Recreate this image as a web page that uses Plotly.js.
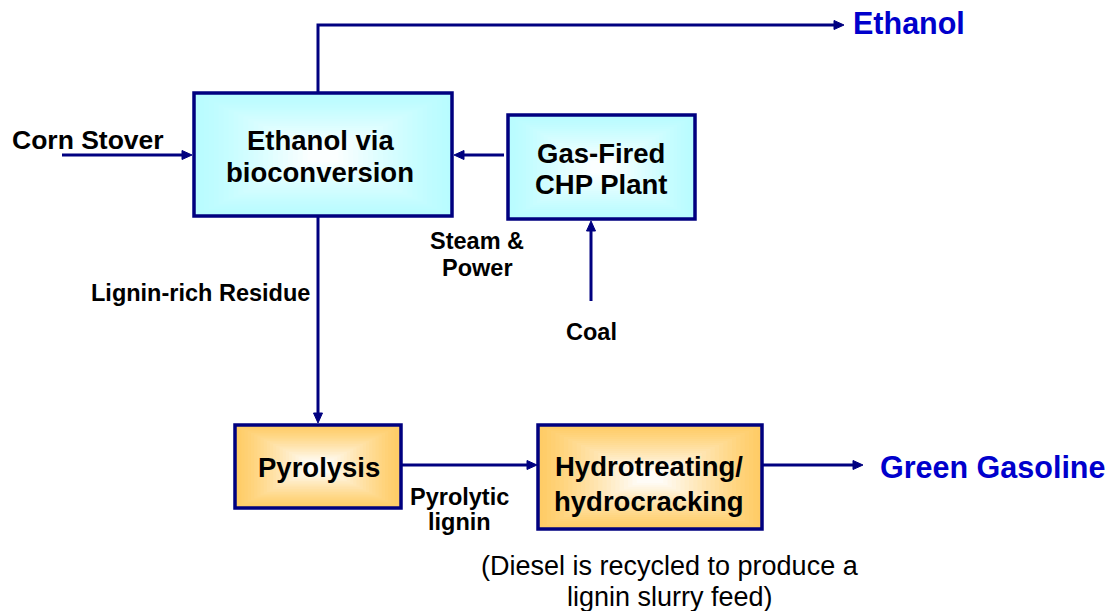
<!DOCTYPE html>
<html>
<head>
<meta charset="utf-8">
<script src="https://cdn.plot.ly/plotly-3.0.1.min.js"></script>
<style>
  html, body { margin: 0; padding: 0; background: #ffffff; }
  #chart { width: 1112px; height: 611px; }
</style>
</head>
<body>
<div id="chart"></div>
<script>
// ---- content ----
const nodeIds    = ["ethanolPlant", "chp", "pyrolysis", "hydro"];
const nodeLines  = [["Ethanol via", "bioconversion"], ["Gas-Fired", "CHP Plant"], ["Pyrolysis"], ["Hydrotreating/", "hydrocracking"]];
const nodeKinds  = ["cyan", "cyan", "orange", "orange"];

const flowIds    = ["cornStover", "steamPower", "ethanolOut", "residue", "coal", "pyroOil", "gasolineOut"];

const labelTexts = [["Corn Stover"], ["Steam &", "Power"], ["Coal"], ["Lignin-rich Residue"], ["Pyrolytic", "lignin"]];
const productTexts = ["Ethanol", "Green Gasoline"];
const noteLines  = ["(Diesel is recycled to produce a", "lignin slurry feed)"];

// ---- layout geometry (pixel space) ----
const boxGeom = {
  ethanolPlant: {x0: 194, x1: 452, y0: 93,  y1: 216, cx: 320, lineY: [140, 172]},
  chp:          {x0: 508, x1: 695, y0: 115, y1: 219, cx: 601, lineY: [153, 184]},
  pyrolysis:    {x0: 235, x1: 401, y0: 425, y1: 508, cx: 319, lineY: [467]},
  hydro:        {x0: 538, x1: 762, y0: 425, y1: 529, cx: 649, lineY: [466, 501]}
};
const flowGeom = {
  cornStover:  [[62, 155], [192, 155]],
  steamPower:  [[504, 155], [454, 155]],
  ethanolOut:  [[318, 92], [318, 25], [844, 25]],
  residue:     [[318, 217], [318, 423]],
  coal:        [[591, 301], [591, 221]],
  pyroOil:     [[402, 465], [537, 465]],
  gasolineOut: [[763, 465], [863, 465]]
};
const labelGeom = [
  {x: 10,  anchor: "left",   ys: [140], size: 26.5},
  {x: 477, anchor: "center", ys: [241, 268], size: 23.5},
  {x: 591, anchor: "center", ys: [332], size: 23.5},
  {x: 89,  anchor: "left",   ys: [293], size: 23.5},
  {x: 459, anchor: "center", ys: [497, 522], size: 23.5}
];
const productGeom = [{x: 851, y: 23}, {x: 878, y: 467}];
const noteGeom = {x: 670, ys: [566, 597]};

// ---- styles ----
const NAVY = "#000080";
const BLUE_TXT = "#0000cc";
const edgeColors = {cyan: [184, 252, 255], orange: [255, 204, 102]};
const FONT = "Arial, 'Liberation Sans', sans-serif";

function mix(c, t) {
  const r = Math.round(c[0] + (255 - c[0]) * t);
  const g = Math.round(c[1] + (255 - c[1]) * t);
  const b = Math.round(c[2] + (255 - c[2]) * t);
  return "rgb(" + r + "," + g + "," + b + ")";
}

const shapes = [];
const annotations = [];

// boxes with centre-out gradient
nodeIds.forEach(function (id, k) {
  const g = boxGeom[id];
  const edge = edgeColors[nodeKinds[k]];
  const hw = (g.x1 - g.x0) / 2, hh = (g.y1 - g.y0) / 2;
  const N = 24;
  for (let i = 0; i < N; i++) {
    const t = i / N;
    const insX = t * hw * 0.92, insY = t * hh * 0.92;
    shapes.push({
      type: "rect", xref: "x", yref: "y", layer: "below",
      x0: g.x0 + insX, x1: g.x1 - insX, y0: g.y0 + insY, y1: g.y1 - insY,
      fillcolor: mix(edge, Math.pow(t, 1.2)), line: {width: 0}
    });
  }
  shapes.push({
    type: "rect", xref: "x", yref: "y", layer: "above",
    x0: g.x0, x1: g.x1, y0: g.y0, y1: g.y1,
    fillcolor: "rgba(0,0,0,0)", line: {color: NAVY, width: 3.5}
  });
  nodeLines[k].forEach(function (txt, j) {
    annotations.push({
      x: g.cx, y: g.lineY[j], xref: "x", yref: "y", showarrow: false,
      xanchor: "center", yanchor: "middle",
      text: "<b>" + txt + "</b>",
      font: {family: FONT, size: 27.5, color: "#000000"}
    });
  });
});

// flows with triangular heads
flowIds.forEach(function (id) {
  const pts = flowGeom[id];
  const a = pts[pts.length - 2], b = pts[pts.length - 1];
  const dx = b[0] - a[0], dy = b[1] - a[1];
  const len = Math.sqrt(dx * dx + dy * dy);
  const ux = dx / len, uy = dy / len;
  const L = 10, W = 4.5;
  const endX = b[0] - ux * (L - 2), endY = b[1] - uy * (L - 2);
  let linePath = "M" + pts[0][0] + "," + pts[0][1];
  for (let i = 1; i < pts.length - 1; i++) linePath += " L" + pts[i][0] + "," + pts[i][1];
  linePath += " L" + endX + "," + endY;
  shapes.push({type: "path", xref: "x", yref: "y", path: linePath,
    line: {color: NAVY, width: 3}, fillcolor: "rgba(0,0,0,0)"});
  const bx = b[0] - ux * L, by = b[1] - uy * L;
  const head = "M" + b[0] + "," + b[1] +
    " L" + (bx - uy * W) + "," + (by + ux * W) +
    " L" + (bx + uy * W) + "," + (by - ux * W) + " Z";
  shapes.push({type: "path", xref: "x", yref: "y", path: head,
    line: {color: NAVY, width: 1}, fillcolor: NAVY});
});

// flow labels
labelTexts.forEach(function (lines, k) {
  const g = labelGeom[k];
  lines.forEach(function (txt, j) {
    annotations.push({
      x: g.x, y: g.ys[j], xref: "x", yref: "y", showarrow: false,
      xanchor: g.anchor, yanchor: "middle",
      text: "<b>" + txt + "</b>",
      font: {family: FONT, size: g.size, color: "#000000"}
    });
  });
});

// products
productTexts.forEach(function (txt, k) {
  annotations.push({
    x: productGeom[k].x, y: productGeom[k].y, xref: "x", yref: "y", showarrow: false,
    xanchor: "left", yanchor: "middle",
    text: "<b>" + txt + "</b>",
    font: {family: FONT, size: 30.5, color: BLUE_TXT}
  });
});

// note
noteLines.forEach(function (txt, j) {
  annotations.push({
    x: noteGeom.x, y: noteGeom.ys[j], xref: "x", yref: "y", showarrow: false,
    xanchor: "center", yanchor: "middle",
    text: txt,
    font: {family: FONT, size: 27, color: "#000000"}
  });
});

const layout = {
  width: 1112, height: 611,
  margin: {l: 0, r: 0, t: 0, b: 0, pad: 0},
  paper_bgcolor: "#ffffff", plot_bgcolor: "#ffffff",
  showlegend: false,
  xaxis: {range: [0, 1112], visible: false, fixedrange: true},
  yaxis: {range: [611, 0], visible: false, fixedrange: true},
  shapes: shapes,
  annotations: annotations
};

Plotly.newPlot("chart", [], layout, {staticPlot: true, displayModeBar: false});
</script>
</body>
</html>
